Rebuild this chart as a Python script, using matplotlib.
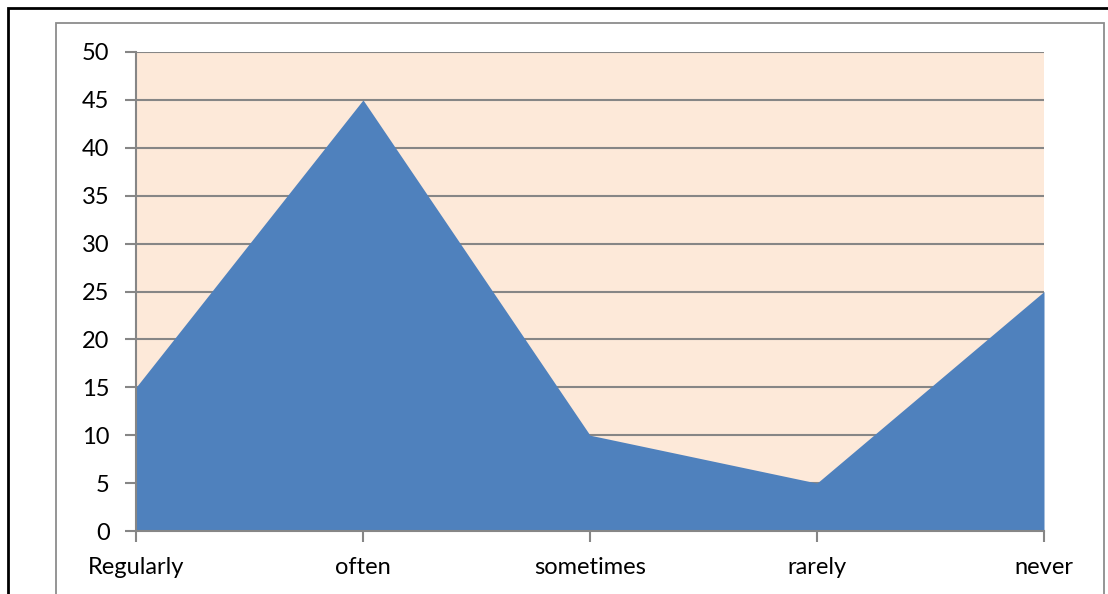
import matplotlib
matplotlib.use("Agg")
import matplotlib.pyplot as plt
from matplotlib.patches import Rectangle

categories = ["Regularly", "often", "sometimes", "rarely", "never"]
values = [15, 45, 10, 5, 25]
yticks = [0, 5, 10, 15, 20, 25, 30, 35, 40, 45, 50]

W, H = 1108, 594
fig = plt.figure(figsize=(W / 100, H / 100), dpi=100)
plt.rcParams['font.family'] = ['Lato', 'DejaVu Sans']

# outer borders
fig.add_artist(Rectangle((8 / W, -0.1), 1.2, (H - 8) / H + 0.1, transform=fig.transFigure,
                         fill=False, edgecolor="black", linewidth=2))
fig.add_artist(Rectangle((56 / W, -0.1), (1104 - 56) / W, (H - 23) / H + 0.1, transform=fig.transFigure,
                         fill=False, edgecolor="#8c8c8c", linewidth=1.3))

left, right, top, bottom = 136, 1044, 52, 531
ax = fig.add_axes([left / W, 1 - bottom / H, (right - left) / W, (bottom - top) / H])
ax.set_facecolor("#FDE9D9")

x = list(range(len(categories)))
ax.fill_between(x, values, 0, color="#4F81BD", linewidth=0, zorder=3)

ax.set_xlim(0, len(categories) - 1)
ax.set_ylim(0, 50)
ax.set_yticks(yticks)
ax.set_yticklabels([str(v) for v in yticks])
ax.set_xticks(x)
ax.set_xticklabels(categories)
ax.yaxis.grid(True, color="#868686", linewidth=1.5, zorder=1)
ax.set_axisbelow(True)

for s in ["top", "right"]:
    ax.spines[s].set_visible(False)
for s in ["left", "bottom"]:
    ax.spines[s].set_color("#868686")
    ax.spines[s].set_linewidth(1.5)
    ax.spines[s].set_zorder(4)

ax.tick_params(axis="y", length=8, width=1.5, color="#868686", labelsize=17, pad=11)
ax.tick_params(axis="x", length=8, width=1.5, color="#868686", labelsize=17, pad=11)

fig.savefig("out.png", dpi=100)
